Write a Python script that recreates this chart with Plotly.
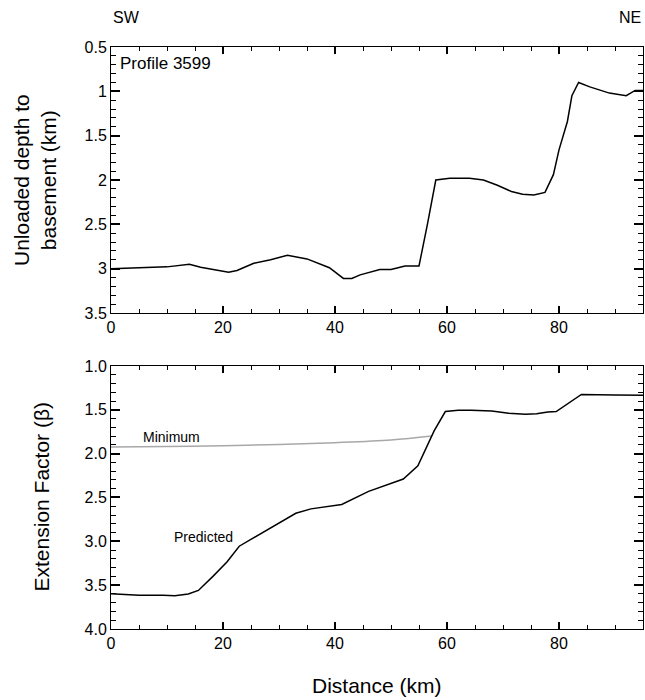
import plotly.graph_objects as go

# Unloaded depth to basement along profile 3599
depth_km = [0, 5, 10, 14, 16, 21, 22.5, 25.5, 28.5, 31.5, 35, 39, 41.5, 43, 44.5, 48, 50, 52.5,
            55, 56.5, 58, 60.5, 64, 66.5, 69, 71.5, 73.5, 75.5, 77.5, 79, 80, 81.5, 82.3, 83.5,
            85.5, 89, 92, 93.6, 95]
depth_val = [3.0, 2.99, 2.98, 2.95, 2.985, 3.04, 3.02, 2.94, 2.90, 2.85, 2.89, 2.99, 3.11, 3.11,
             3.07, 3.01, 3.01, 2.97, 2.97, 2.5, 2.0, 1.98, 1.98, 2.0, 2.06, 2.13, 2.16, 2.17,
             2.14, 1.94, 1.66, 1.34, 1.05, 0.90, 0.95, 1.02, 1.05, 0.99, 0.99]

# Predicted extension factor
pred_km = [0, 5, 9.3, 11.4, 13.8, 15.6, 18.2, 20.7, 22.9, 25.5, 29.9, 33, 35.7, 41.2, 46, 52.2,
           54.8, 56.6, 57.7, 59.7, 62, 64.3, 68, 71, 74, 76, 78, 79.5, 84, 90, 95]
pred_beta = [3.597, 3.615, 3.615, 3.62, 3.60, 3.56, 3.40, 3.235, 3.056, 2.96, 2.80, 2.68, 2.63,
             2.58, 2.43, 2.29, 2.14, 1.89, 1.74, 1.52, 1.505, 1.505, 1.515, 1.54, 1.55, 1.545,
             1.525, 1.52, 1.325, 1.33, 1.335]

# Minimum extension factor
min_km = [0, 10, 20, 30, 40, 50, 57.3]
min_beta = [1.925, 1.92, 1.91, 1.895, 1.875, 1.845, 1.80]

x_ticks = [0, 20, 40, 60, 80]
top_y_ticks = [0.5, 1, 1.5, 2, 2.5, 3, 3.5]
bottom_y_ticks = [1.0, 1.5, 2.0, 2.5, 3.0, 3.5, 4.0]

FONT = "Liberation Sans, Arial, sans-serif"
NARROW = "Liberation Sans Narrow, Liberation Sans, Arial, sans-serif"

fig = go.Figure()
fig.add_trace(go.Scatter(x=depth_km, y=depth_val, mode="lines", xaxis="x", yaxis="y",
                         line=dict(color="black", width=1.5)))
fig.add_trace(go.Scatter(x=min_km, y=min_beta, mode="lines", line_shape="spline",
                         xaxis="x2", yaxis="y2", line=dict(color="#a8a8a8", width=1.5)))
fig.add_trace(go.Scatter(x=pred_km, y=pred_beta, mode="lines", xaxis="x2", yaxis="y2",
                         line=dict(color="black", width=1.5)))


def x_axis(anchor):
    return dict(anchor=anchor, domain=[0, 1],
                tickmode="array", tickvals=x_ticks, ticktext=[str(v) for v in x_ticks],
                ticks="inside", ticklen=7, tickwidth=1.5, tickcolor="black",
                showline=True, linecolor="black", mirror="ticks",
                minor=dict(ticks="inside", ticklen=4, tickwidth=1.2, tickcolor="black",
                           dtick=5, tick0=0),
                tickfont=dict(family=FONT, size=16, color="black"))


def y_axis(anchor, domain, rng, vals, labels):
    return dict(anchor=anchor, domain=domain, range=rng,
                tickmode="array", tickvals=vals, ticktext=labels,
                ticks="inside", ticklen=9, tickwidth=1.5, tickcolor="black",
                showline=True, linecolor="black", mirror="ticks",
                minor=dict(ticks="inside", ticklen=5, tickwidth=1.2, tickcolor="black",
                           dtick=0.1, tick0=0),
                tickfont=dict(family=FONT, size=16, color="black"))


annotations = [
    dict(text="SW", x=0, xref="x", y=1.0, yref="paper", yshift=19, xanchor="left",
         yanchor="bottom", showarrow=False, font=dict(family=FONT, size=16, color="black")),
    dict(text="NE", x=1, xref="paper", y=1.0, yref="paper", yshift=19, xanchor="right",
         yanchor="bottom", showarrow=False, font=dict(family=FONT, size=16, color="black")),
    dict(text="Profile 3599", x=0, xref="x", xshift=7, y=0.69, yref="y", xanchor="left",
         showarrow=False, font=dict(family=FONT, size=17, color="black")),
    dict(text="Minimum", x=10.8, xref="x2", y=1.81, yref="y2", showarrow=False,
         font=dict(family=NARROW, size=14, color="black")),
    dict(text="Predicted", x=16.5, xref="x2", y=2.95, yref="y2", showarrow=False,
         font=dict(family=NARROW, size=14, color="black")),
    dict(text="Unloaded depth to<br>basement (km)", x=0, xref="paper", xshift=-76,
         xanchor="center", yanchor="middle",
         y=0.7715, yref="paper", textangle=-90, showarrow=False,
         font=dict(family=FONT, size=21, color="black")),
    dict(text="Extension Factor (\u03b2)", x=0, xref="paper", xshift=-70,
         xanchor="center", yanchor="middle",
         y=0.226, yref="paper", textangle=-90, showarrow=False,
         font=dict(family=FONT, size=21, color="black")),
    dict(text="Distance (km)", x=0.5, xref="paper", y=0, yref="paper", yshift=-56,
         xanchor="center", yanchor="middle",
         showarrow=False, font=dict(family=FONT, size=21, color="black")),
]

fig.update_layout(
    template="simple_white",
    width=645, height=700,
    margin=dict(l=111, r=2, t=47, b=71),
    showlegend=False,
    xaxis=x_axis("y"),
    yaxis=y_axis("x", [0.543, 1], [3.5, 0.5], top_y_ticks,
                 [f"{v:g}" for v in top_y_ticks]),
    xaxis2=x_axis("y2"),
    yaxis2=y_axis("x2", [0, 0.452], [4.0, 1.0], bottom_y_ticks,
                  [f"{v:.1f}" for v in bottom_y_ticks]),
    annotations=annotations,
)

fig.write_html("out.html")
